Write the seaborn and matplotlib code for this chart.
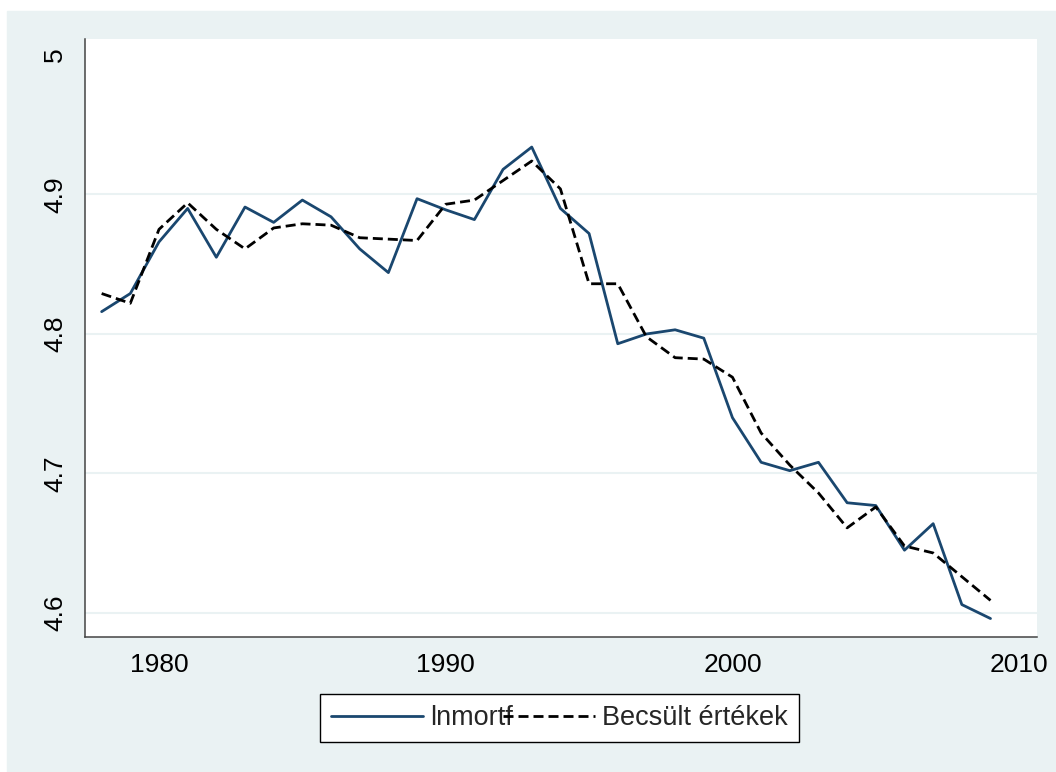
import pandas as pd
import numpy as np
import matplotlib.pyplot as plt
import matplotlib.patches as mpatches
import seaborn as sns

years = [1978, 1979, 1980, 1981, 1982, 1983, 1984, 1985, 1986, 1987, 1988,
         1989, 1990, 1991, 1992, 1993, 1994, 1995, 1996, 1997, 1998, 1999,
         2000, 2001, 2002, 2003, 2004, 2005, 2006, 2007, 2008, 2009]
lnmortf = [4.816, 4.829, 4.866, 4.890, 4.855, 4.891, 4.880, 4.896, 4.884, 4.861,
           4.844, 4.897, 4.889, 4.882, 4.918, 4.934, 4.890, 4.872, 4.793, 4.800,
           4.803, 4.797, 4.740, 4.708, 4.702, 4.708, 4.679, 4.677, 4.645, 4.664,
           4.606, 4.596]
becsult = [4.829, 4.822, 4.875, 4.894, 4.875, 4.861, 4.876, 4.879, 4.878, 4.869,
           4.868, 4.867, 4.893, 4.896, 4.910, 4.924, 4.904, 4.836, 4.836, 4.798,
           4.783, 4.782, 4.769, 4.729, 4.706, 4.686, 4.661, 4.676, 4.648, 4.643,
           4.626, 4.609]
yticks = [4.6, 4.7, 4.8, 4.9, 5.0]
ytick_labels = ["4.6", "4.7", "4.8", "4.9", "5"]
xticks = [1980, 1990, 2000, 2010]

df = pd.DataFrame({"year": years, "lnmortf": lnmortf, "becsult": becsult})

sns.set_style("white")
plt.rcParams['font.family'] = ['Liberation Sans', 'DejaVu Sans']

bg = "#EAF2F3"
fig = plt.figure(figsize=(10.56, 7.72), dpi=100, facecolor="white")
# light outer region (stata style)
fig.patches.append(mpatches.Rectangle((7/1056, 0), 1, (772-11)/772,
                                      transform=fig.transFigure, color=bg, zorder=-10))
ax = fig.add_axes([0.0805, 0.1753, 0.9817-0.0805, 0.9499-0.1753])
ax.set_facecolor("white")

sns.lineplot(data=df, x="year", y="lnmortf", ax=ax, color="#1A476F", lw=2.0, label="lnmortf")
sns.lineplot(data=df, x="year", y="becsult", ax=ax, color="black", lw=2.0,
             dashes=False, label="Becsült értékek")
ax.lines[1].set_dashes([3.6, 1.8])

ax.set_xlim(1977.42, 2010.61)
ax.set_ylim(4.583, 5.0117)
ax.set_xticks(xticks)
ax.set_yticks(yticks)
ax.set_yticklabels(ytick_labels)
ax.set_xlabel("")
ax.set_ylabel("")

for y in yticks[:-1]:
    ax.axhline(y, color=bg, lw=1.5, zorder=0)

for s in ["top", "right"]:
    ax.spines[s].set_visible(False)
for s in ["left", "bottom"]:
    ax.spines[s].set_color("#444444")
    ax.spines[s].set_linewidth(1.1)

ax.tick_params(axis="both", direction="out", length=8, width=1, color="#444444",
               labelsize=19, labelcolor="black")
ax.tick_params(axis="y", labelrotation=90, pad=5)
ax.tick_params(axis="x", pad=4)
for t in ax.get_yticklabels():
    t.set_va("center")

ax.get_legend().remove()
h, l = ax.get_legend_handles_labels()
leg = fig.legend(h, l, loc="center", bbox_to_anchor=(0.530, 0.0699), ncol=2,
                 fontsize=19.5, handlelength=3.4, handletextpad=0.26, columnspacing=-0.37,
                 borderpad=0.4, frameon=True, fancybox=False, framealpha=1,
                 edgecolor="black")
leg.get_frame().set_linewidth(1.0)

plt.savefig("out.png", dpi=100, facecolor="white")
